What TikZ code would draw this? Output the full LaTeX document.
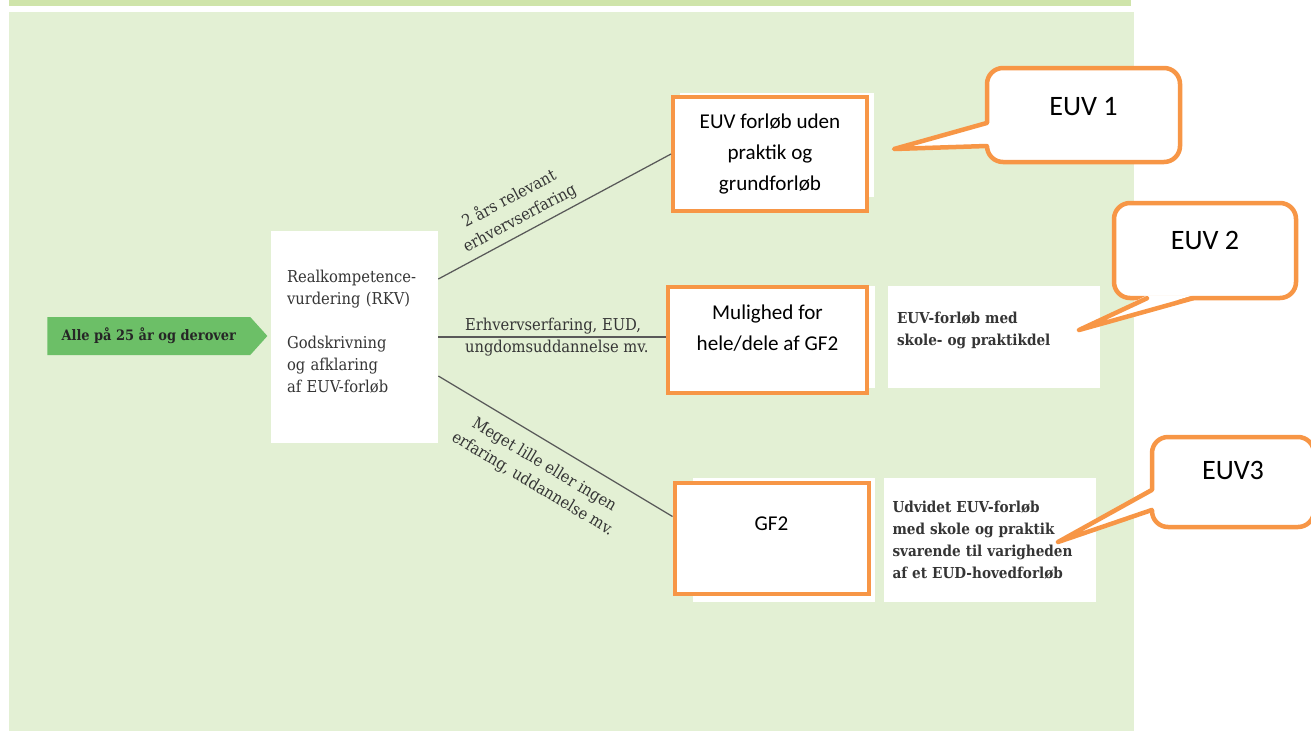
\documentclass[tikz,border=0pt]{standalone}
\usepackage{fontspec}
\setmainfont{Carlito}
\newfontfamily\slabfont{DejaVu Serif Condensed}
\usetikzlibrary{calc,shapes.symbols}
\definecolor{bglight}{HTML}{E3F0D4}
\definecolor{bgstrip}{HTML}{CFE4AA}
\definecolor{arrowgreen}{HTML}{6CBF67}
\definecolor{euvorange}{HTML}{F79646}
\definecolor{slabgray}{HTML}{353535}

\begin{document}
\begin{tikzpicture}[x=0.2mm, y=-0.2mm,
  slab/.style={font=\slabfont\fontsize{9.3}{12.6}\selectfont, text=slabgray},
  slabbold/.style={font=\slabfont\bfseries\fontsize{8.6}{12.6}\selectfont, text=slabgray},
  whitebox/.style={rectangle, fill=white, inner sep=0pt},
  euvbox/.style={rectangle, draw=euvorange, line width=0.8mm, fill=white,
    minimum width=38.8mm, align=center, font=\fontsize{12}{17.6}\selectfont},
  bubble/.style={rectangle, draw=euvorange, line width=0.9mm, fill=white,
    rounded corners=3.2mm, font=\fontsize{16}{19}\selectfont},
  bubbleline/.style={draw=euvorange, line width=0.9mm, line join=round, line cap=round},
  edgeline/.style={draw=black!65, line width=0.25mm},
  lbl/.style={slab, inner sep=1.5pt, align=center}]
  \useasboundingbox (0,0) rectangle (1311,731);
  \fill[bgstrip] (9,0) rectangle (1131,6);
  \fill[bglight] (9,12) rectangle (1134,731);

  % venstre side
  \node[signal, signal to=east, signal pointer angle=96, fill=arrowgreen,
    minimum width=44mm, minimum height=7.6mm, inner sep=0pt, anchor=west,
    font=\slabfont\bfseries\fontsize{8.2}{10}\selectfont, text=black!85] (alle) at (47,336) {Alle på 25 år og derover};
  \node[whitebox, slab, minimum width=33.4mm, minimum height=42.4mm, text width=27mm,
    inner xsep=3.2mm, align=left, text depth=24.4mm] (rkv) at (354.5,337)
    {Realkompetence-\\vurdering (RKV)\\[4.4mm]Godskrivning\\og afklaring\\af EUV-forløb};

  % hvid baggrund bag de orange kasser
  \fill[white] (680,93) rectangle (874,197);
  \fill[white] (680,286) rectangle (875,388);
  \fill[white] (693,478) rectangle (875,602);

  \node[euvbox, minimum height=22.8mm] (boxA) at (770,154) {EUV forløb uden\\praktik og\\grundforløb};
  \node[euvbox, minimum width=39.8mm, minimum height=21.2mm, text depth=5mm] (boxB) at (767.5,340) {Mulighed for\\hele/dele af GF2};
  \node[euvbox, minimum height=22.2mm, text depth=6mm] (boxC) at (771.5,538.5) {GF2};

  \node[whitebox, slabbold, minimum width=42.4mm, minimum height=20.4mm, text width=38.8mm,
    inner xsep=1.8mm, align=left, text depth=7.6mm] (skole) at (994,337) {EUV-forløb med\\skole- og praktikdel};
  \node[whitebox, slabbold, minimum width=42.4mm, minimum height=24.8mm, text width=38.8mm,
    inner xsep=1.8mm, align=left] (udvidet) at (989.5,540)
    {Udvidet EUV-forløb\\med skole og praktik\\svarende til varigheden\\af et EUD-hovedforløb};

  % forbindelser
  \draw[edgeline] ($(rkv.east)+(0,-58)$) -- node[lbl, pos=0.38, sloped, above=0.6mm] {2 års relevant\\erhvervserfaring} (boxA.west);
  \draw[edgeline] (rkv.east) -- node[lbl, pos=0.52, align=left] {Erhvervserfaring, EUD,\\ungdomsuddannelse mv.} (rkv.east -| boxB.west);
  \draw[edgeline] ($(rkv.east)+(0,39)$) -- node[lbl, pos=0.5, sloped, below=2.2mm] {Meget lille eller ingen\\erfaring, uddannelse mv.} ($(boxC.west)+(0,-22)$);

  % talebobler
  \node[bubble, minimum width=38.6mm, minimum height=18.8mm, text depth=3.6mm] (euvA) at (1083.5,115) {EUV 1};
  \node[bubble, minimum width=36.4mm, minimum height=19mm, text depth=4.2mm] (euvB) at (1205,250.5) {EUV 2};
  \node[bubble, minimum width=32.4mm, minimum height=18mm, text depth=4.8mm] (euvC) at (1233,482) {EUV3};

  \coordinate (tipA) at (894,149);
  \coordinate (tipB) at (1079,330);
  \coordinate (tipC) at (1058,542);
  \fill[white] ($(euvA.west)+(5,8)$) -- (tipA) -- ($(euvA.west)+(5,31)$) -- cycle;
  \draw[bubbleline] ($(euvA.west)+(2,8)$) -- (tipA) -- ($(euvA.west)+(2,31)$);
  \fill[white] ($(euvB.south)+(-58,-5)$) -- (tipB) -- ($(euvB.south)+(-12,-5)$) -- cycle;
  \draw[bubbleline] ($(euvB.south)+(-58,-2)$) -- (tipB) -- ($(euvB.south)+(-12,-2)$);
  \fill[white] ($(euvC.west)+(5,8)$) -- (tipC) -- ($(euvC.west)+(5,28)$) -- cycle;
  \draw[bubbleline] ($(euvC.west)+(2,8)$) -- (tipC) -- ($(euvC.west)+(2,28)$);
\end{tikzpicture}
\end{document}
